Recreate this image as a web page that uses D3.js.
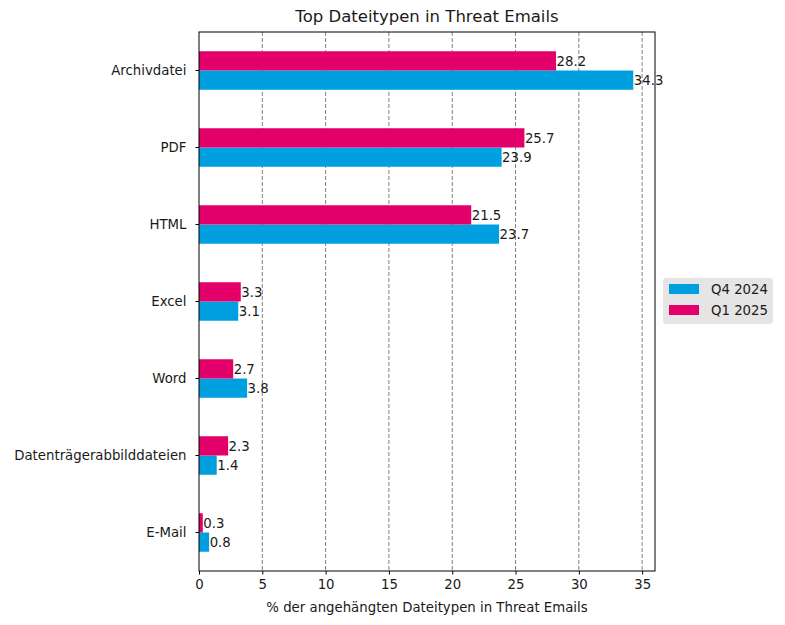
<!DOCTYPE html>
<html>
<head>
<meta charset="utf-8">
<script src="https://cdn.jsdelivr.net/npm/d3@7/dist/d3.min.js"></script>
<style>
  body { margin: 0; background: #fff; }
  svg text { font-family: "DejaVu Sans", "Noto Sans", sans-serif; fill: #1a1a1a; }
</style>
</head>
<body>
<div id="chart"></div>
<script>
// ─── Data ──────────────────────────────────────────────
const categories = ['Archivdatei', 'PDF', 'HTML', 'Excel', 'Word', 'Datenträgerabbilddateien', 'E-Mail'];
const seriesNames = ['Q4 2024', 'Q1 2025'];
const q4_2024 = [34.3, 23.9, 23.7, 3.1, 3.8, 1.4, 0.8];
const q1_2025 = [28.2, 25.7, 21.5, 3.3, 2.7, 2.3, 0.3];
const xTicks = [0, 5, 10, 15, 20, 25, 30, 35];
const colors = ['#009fe0', '#e3006b'];

(function() {
  const W = 785, H = 625;
  const m = { left: 199, right: 130, top: 32, bottom: 54 };
  const iw = W - m.left - m.right, ih = H - m.top - m.bottom;
  const fs = 13.3;

  const svg = d3.select('#chart').append('svg')
    .attr('width', W).attr('height', H);
  const g = svg.append('g').attr('transform', `translate(${m.left},${m.top})`);

  const xMax = d3.max(q4_2024.concat(q1_2025)) * 1.05;
  const x = d3.scaleLinear().domain([0, xMax]).range([0, iw]);
  const y = d3.scaleBand().domain(categories).range([0, ih]).padding(0);
  const barH = y.bandwidth() * 0.25;

  // grid
  g.append('g').selectAll('line')
    .data(xTicks.filter(t => t > 0))
    .enter().append('line')
    .attr('x1', d => x(d)).attr('x2', d => x(d))
    .attr('y1', 0).attr('y2', ih)
    .attr('stroke', '#808080').attr('stroke-width', 1)
    .attr('stroke-dasharray', '4,2');

  // bars: Q1 2025 above centre, Q4 2024 below
  const series = [
    { name: seriesNames[0], values: q4_2024, color: colors[0], off: 0 },
    { name: seriesNames[1], values: q1_2025, color: colors[1], off: -1 }
  ];
  series.forEach(s => {
    const sg = g.append('g');
    sg.selectAll('rect')
      .data(categories)
      .enter().append('rect')
      .attr('x', 0)
      .attr('y', (d) => y(d) + y.bandwidth() / 2 + s.off * barH)
      .attr('width', (d, i) => x(s.values[i]))
      .attr('height', barH)
      .attr('fill', s.color);
    sg.selectAll('text')
      .data(categories)
      .enter().append('text')
      .attr('x', (d, i) => x(s.values[i]) + 0.5)
      .attr('y', (d) => y(d) + y.bandwidth() / 2 + (s.off + 0.5) * barH)
      .attr('dy', '0.35em')
      .attr('font-size', fs)
      .text((d, i) => s.values[i]);
  });

  // axes
  const xAxis = g.append('g').attr('transform', `translate(0,${ih})`)
    .call(d3.axisBottom(x).tickValues(xTicks).tickSize(3.5).tickPadding(5));
  const yAxis = g.append('g')
    .call(d3.axisLeft(y).tickSize(3.5).tickPadding(9));
  [xAxis, yAxis].forEach(a => {
    a.select('.domain').remove();
    a.selectAll('line').attr('stroke', '#000');
    a.selectAll('text').attr('font-size', fs).attr('fill', '#1a1a1a');
  });

  // frame
  g.append('rect').attr('width', iw).attr('height', ih)
    .attr('fill', 'none').attr('stroke', '#000').attr('stroke-width', 1);

  // title & label
  svg.append('text').attr('x', m.left + iw / 2).attr('y', 22)
    .attr('text-anchor', 'middle').attr('font-size', 16.5)
    .text('Top Dateitypen in Threat Emails');
  svg.append('text').attr('x', m.left + iw / 2).attr('y', 612)
    .attr('text-anchor', 'middle').attr('font-size', fs)
    .text('% der angehängten Dateitypen in Threat Emails');

  // legend
  const lg = svg.append('g').attr('transform', 'translate(663,278)');
  lg.append('rect').attr('width', 110).attr('height', 46).attr('rx', 3)
    .attr('fill', '#e5e5e5');
  series.forEach((s, i) => {
    lg.append('rect').attr('x', 6).attr('y', 6 + i * 21).attr('width', 30).attr('height', 10)
      .attr('fill', s.color);
    lg.append('text').attr('x', 48).attr('y', 11 + i * 21).attr('dy', '0.35em')
      .attr('font-size', fs).text(s.name);
  });
})();
</script>
</body>
</html>
